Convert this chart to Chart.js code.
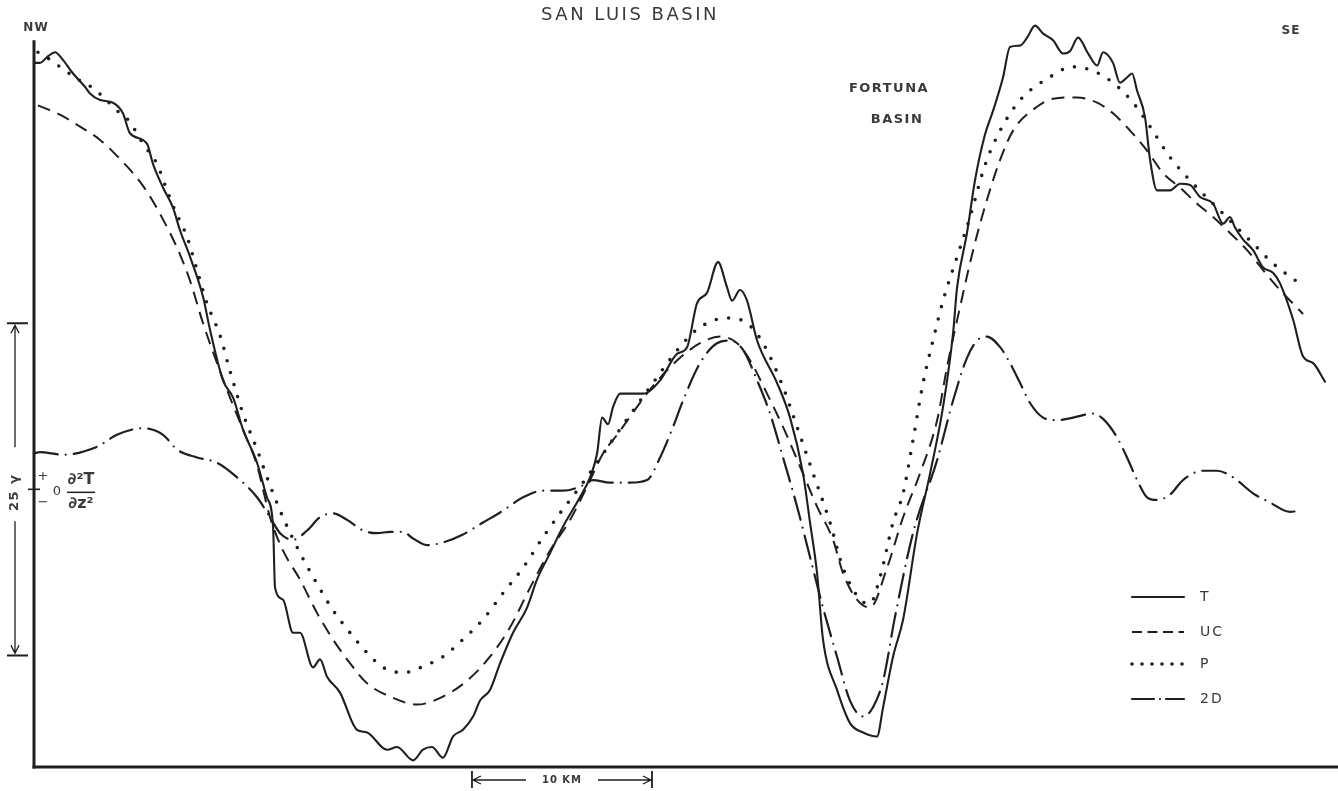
<!DOCTYPE html>
<html>
<head>
<meta charset="utf-8">
<script src="https://cdn.jsdelivr.net/npm/chart.js@4.4.1/dist/chart.umd.min.js"></script>
<style>
html,body{margin:0;padding:0;background:#fff;}
#wrap{width:1338px;height:791px;position:relative;}
</style>
</head>
<body>
<div id="wrap"><canvas id="c"></canvas></div>
<script>
// ---- data (distance along profile in km, field in gammas) ----
const tDist = [0,0.33,0.78,1.17,1.56,2.17,2.83,3.11,3.67,4.39,
  4.94,5.33,6.28,6.61,7.17,7.72,8.11,8.67,9.39,9.78,
  10.5,11.06,11.61,12.39,12.94,13.28,13.39,13.83,14.39,14.78,
  15.5,15.89,16.28,17.0,17.94,18.5,19.61,20.17,21.06,21.61,
  22.11,22.72,23.28,23.83,24.39,24.78,25.33,25.89,26.61,27.39,
  27.94,28.67,29.39,30.33,30.89,31.28,31.56,31.89,32.17,32.56,
  33.11,33.83,34.78,35.72,36.28,36.83,37.39,38.0,38.5,38.78,
  39.22,39.61,40.17,41.28,42.0,42.72,43.11,43.5,43.83,44.61,
  45.33,46.06,46.83,47.17,47.72,48.28,49.06,49.78,50.5,51.06,
  51.28,51.83,52.28,52.83,53.28,53.83,54.22,54.78,55.17,55.61,
  56.06,56.61,57.17,57.56,58.0,58.56,59.06,59.39,59.94,60.33,
  60.72,61.0,61.28,61.72,62.0,62.39,63.11,63.67,64.22,64.78,
  65.5,66.06,66.44,66.72,67.17,67.72,68.28,68.83,69.22,69.94,
  70.5,71.06,71.72];
const tVal = [53.0,53.0,53.5,53.8,53.3,52.2,51.2,50.7,50.2,50.0,
  49.2,47.7,46.9,45.4,43.6,42.1,40.4,38.4,35.4,32.9,
  29.1,27.8,25.4,22.9,20.3,18.1,13.5,12.6,10.1,10.1,
  7.5,8.1,6.8,5.6,2.8,2.6,1.3,1.5,0.5,1.3,
  1.5,0.7,2.3,2.8,3.8,5.0,5.8,7.8,10.1,12.0,
  14.1,16.1,18.1,20.3,21.8,23.6,26.3,25.8,27.1,28.1,
  28.1,28.1,29.1,31.1,31.6,34.9,35.7,38.0,36.1,35.1,
  35.9,35.1,32.1,28.9,26.3,22.1,18.4,14.6,9.6,5.8,
  3.3,2.6,2.3,4.5,8.3,11.1,17.6,22.1,27.1,32.7,
  36.1,40.2,44.2,47.6,49.4,51.9,54.2,54.3,54.9,55.8,
  55.2,54.7,53.7,53.9,54.9,53.7,52.8,53.8,53.0,51.5,
  51.9,52.2,50.9,48.9,45.7,43.4,43.4,43.9,43.8,42.9,
  42.4,40.9,41.4,40.6,39.7,38.9,37.6,37.2,36.4,33.7,
  30.9,30.4,29.0];

const ucDist = [0.22,1.44,2.56,3.67,4.61,5.5,6.28,7.17,7.94,8.67,
  9.39,10.17,10.89,11.61,12.39,13.11,13.83,14.78,15.72,16.61,
  17.56,18.5,19.78,21.28,22.72,24.06,25.33,26.44,27.56,28.67,
  29.78,30.72,31.61,32.39,34.22,35.72,37.0,38.11,39.06,39.78,
  40.72,41.61,42.56,43.5,44.39,44.94,45.72,46.44,47.39,48.28,
  49.22,50.17,50.72,51.44,52.17,52.94,53.67,54.39,55.72,56.61,
  57.94,59.06,59.94,60.89,61.83,62.72,63.67,64.61,65.5,66.44,
  67.39,68.28,69.22,70.5];
const ucVal = [49.8,49.1,48.2,47.2,46.0,44.7,43.3,41.2,39.1,36.6,
  33.4,30.4,27.8,25.4,22.7,18.8,16.3,14.1,11.6,9.6,
  7.8,6.3,5.3,4.7,5.3,6.5,8.3,10.5,13.5,16.3,
  18.6,21.1,23.6,25.0,28.4,30.6,31.9,32.4,31.9,30.6,
  28.1,25.6,22.6,19.6,17.1,14.6,12.6,12.0,15.0,18.8,
  22.1,26.1,30.1,34.6,38.9,42.7,45.7,47.9,49.7,50.3,
  50.4,50.0,49.2,47.9,46.4,44.7,43.6,42.4,41.4,40.2,
  38.9,37.4,35.9,34.1];

const pDist = [0.22,0.72,1.44,2.39,3.28,3.94,4.61,5.17,5.72,6.06,
  6.83,7.39,7.83,8.5,9.06,9.61,10.33,10.89,11.61,12.39,
  13.11,13.83,14.78,15.72,16.61,17.56,18.5,19.39,20.5,21.83,
  22.72,23.83,24.94,26.06,27.17,28.28,29.22,30.5,32.39,34.22,
  36.06,37.0,38.5,39.61,40.5,41.61,42.39,43.28,44.22,44.94,
  45.89,46.44,47.0,47.72,48.28,48.83,49.39,49.94,50.5,51.28,
  52.0,52.83,53.67,54.78,56.28,57.72,58.83,59.94,61.06,62.0,
  63.11,64.39,65.5,66.61,67.72,68.83,70.5];
const pVal = [53.8,53.4,52.7,51.8,51.1,50.3,49.4,48.8,47.7,46.9,
  45.4,43.4,41.9,39.9,37.4,34.9,32.5,29.8,26.6,23.9,
  21.2,18.8,16.1,13.8,11.8,10.1,8.6,7.5,7.1,7.7,
  8.3,9.6,11.1,13.1,15.0,17.3,19.1,21.4,25.1,28.6,
  31.9,33.1,33.8,33.4,31.9,28.6,25.6,22.1,18.4,15.0,
  12.6,12.3,14.3,18.4,20.6,24.6,28.9,32.1,35.1,38.4,
  41.4,45.3,47.9,50.2,51.8,52.7,52.4,51.5,50.0,48.2,
  45.9,43.9,42.4,40.9,39.4,37.9,36.2];

const d2Dist = [0,0.33,1.61,3.5,4.61,6.06,7.17,7.94,9.06,10.17,
  11.28,12.39,13.11,13.67,14.39,15.17,15.89,16.61,17.39,18.28,
  19.06,19.78,20.5,21.06,21.83,22.72,23.83,24.94,26.06,27.17,
  28.28,29.39,30.33,31.06,32.0,33.11,34.06,34.78,35.5,36.06,
  37.0,37.94,38.67,39.39,40.17,40.89,41.61,42.39,43.11,43.83,
  44.61,45.33,46.06,46.61,47.17,47.83,48.83,50.17,51.06,51.83,
  52.39,52.94,53.67,54.22,54.78,55.33,56.06,56.83,57.72,58.83,
  59.39,60.17,60.72,61.28,61.83,62.39,63.11,63.83,64.94,65.72,
  66.61,67.72,68.67,69.78,70.33];
const d2Val = [23.6,23.7,23.5,24.1,25.0,25.5,25.0,23.9,23.3,22.9,
  21.8,20.3,18.8,17.6,17.1,17.8,18.8,19.1,18.6,17.8,
  17.6,17.7,17.7,17.2,16.7,16.9,17.5,18.4,19.3,20.3,
  20.8,20.8,21.1,21.6,21.4,21.4,21.6,23.3,25.6,27.6,
  30.4,31.9,32.1,31.4,29.1,26.6,23.3,19.6,15.8,12.0,
  8.3,5.0,3.8,4.5,6.5,11.3,17.6,23.1,27.6,30.8,
  32.1,32.4,31.6,30.4,28.9,27.4,26.3,26.1,26.3,26.6,
  26.2,24.8,23.3,21.6,20.3,20.1,20.5,21.6,22.3,22.3,
  21.8,20.6,19.9,19.2,19.3];

const seriesLabels = ['T', 'UC', 'P', '2D'];

// reference marks (in data units)
const X_MAX = 72.44;        // km at right edge
const Y_MAX = 56;           // gammas at top edge
const AXIS_TOP = 54.7;      // top of the vertical axis line
const GAMMA_BAR_BASE = 8.4; // lower end of the 25 gamma scale bar
const GAMMA_BAR_SPAN = 25;
const D2_ZERO = 20.9;       // zero level of the second derivative curve
const KM_BAR_START = 24.33; // start of the 10 km scale bar
const KM_BAR_SPAN = 10;

const INK = '#1f1f1f';
const TXT = '#3a3a3a';
const FONT = '"DejaVu Sans", "Liberation Sans", sans-serif';

const toXY = (xs, ys) => xs.map((x, i) => ({ x: x, y: ys[i] }));

const styles = [
  { borderWidth: 2.1, borderDash: [], borderCapStyle: 'round', legendDash: [] },
  { borderWidth: 2.0, borderDash: [13, 8], borderCapStyle: 'butt', legendDash: [10, 5.5] },
  { borderWidth: 3.6, borderDash: [0, 12.5], borderCapStyle: 'round', legendDash: [0, 10] },
  { borderWidth: 2.2, borderDash: [24, 8, 0, 8], borderCapStyle: 'round', legendDash: [22, 6, 0, 6] }
];
const seriesData = [toXY(tDist, tVal), toXY(ucDist, ucVal), toXY(pDist, pVal), toXY(d2Dist, d2Val)];

const datasets = seriesLabels.map((lab, i) => ({
  label: lab,
  data: seriesData[i],
  borderColor: INK,
  backgroundColor: INK,
  borderWidth: styles[i].borderWidth,
  borderDash: styles[i].borderDash,
  borderCapStyle: styles[i].borderCapStyle,
  borderJoinStyle: 'round',
  pointRadius: 0,
  pointHoverRadius: 0,
  fill: false,
  tension: 0.4,
  cubicInterpolationMode: 'monotone',
  clip: false
}));

function txt(ctx, s, x, y, font, align, spacing) {
  ctx.font = font;
  ctx.letterSpacing = spacing || '0px';
  ctx.textAlign = align || 'center';
  ctx.textBaseline = 'middle';
  ctx.fillText(s, x, y);
}

const decor = {
  id: 'decor',
  beforeDatasetsDraw(chart) {
    const { ctx, scales: { x, y } } = chart;
    const x0 = x.getPixelForValue(0), y0 = y.getPixelForValue(0);
    ctx.save();
    ctx.strokeStyle = INK;
    ctx.lineWidth = 3;
    ctx.beginPath();
    ctx.moveTo(x0, y.getPixelForValue(AXIS_TOP));
    ctx.lineTo(x0, y0 + 1.5);
    ctx.stroke();
    ctx.beginPath();
    ctx.moveTo(x0 - 1.5, y0);
    ctx.lineTo(x.getPixelForValue(X_MAX), y0);
    ctx.stroke();
    ctx.restore();
  },
  afterDraw(chart) {
    const { ctx, scales: { x, y }, chartArea } = chart;
    ctx.save();
    ctx.fillStyle = TXT;
    ctx.strokeStyle = INK;

    // titles
    txt(ctx, 'SAN LUIS BASIN', 630, 15, '18px ' + FONT, 'center', '2.5px');
    txt(ctx, 'NW', 36, 28, 'bold 12px ' + FONT, 'center', '1px');
    txt(ctx, 'SE', 1291, 31, 'bold 12px ' + FONT, 'center', '1px');
    txt(ctx, 'FORTUNA', 889, 89, 'bold 13px ' + FONT, 'center', '1.5px');
    txt(ctx, 'BASIN', 897, 120, 'bold 13px ' + FONT, 'center', '1.5px');

    // 25 gamma scale bar
    const bx = chartArea.left - 19;
    const bTop = y.getPixelForValue(GAMMA_BAR_BASE + GAMMA_BAR_SPAN);
    const bBot = y.getPixelForValue(GAMMA_BAR_BASE);
    const bMid = (bTop + bBot) / 2;
    ctx.lineWidth = 2;
    ctx.beginPath();
    ctx.moveTo(bx - 8, bTop); ctx.lineTo(bx + 13, bTop);
    ctx.moveTo(bx - 8, bBot); ctx.lineTo(bx + 13, bBot);
    ctx.stroke();
    ctx.lineWidth = 1.3;
    ctx.beginPath();
    ctx.moveTo(bx, bTop + 2); ctx.lineTo(bx, bMid - 42);
    ctx.moveTo(bx, bMid + 32); ctx.lineTo(bx, bBot - 2);
    ctx.moveTo(bx - 4, bTop + 10); ctx.lineTo(bx, bTop + 2); ctx.lineTo(bx + 4, bTop + 10);
    ctx.moveTo(bx - 4, bBot - 10); ctx.lineTo(bx, bBot - 2); ctx.lineTo(bx + 4, bBot - 10);
    ctx.stroke();
    ctx.save();
    ctx.translate(bx, bMid);
    ctx.rotate(-Math.PI / 2);
    txt(ctx, '25 \u03b3', -3, 0, 'bold 13px ' + FONT, 'center', '1.5px');
    ctx.restore();

    // zero tick of second derivative + label
    const zy = y.getPixelForValue(D2_ZERO);
    ctx.lineWidth = 1.6;
    ctx.beginPath();
    ctx.moveTo(chartArea.left - 6, zy); ctx.lineTo(chartArea.left + 6, zy);
    ctx.stroke();
    txt(ctx, '+', chartArea.left + 9, zy - 13, '13px ' + FONT, 'center');
    txt(ctx, '0', chartArea.left + 23, zy + 2, '13px ' + FONT, 'center');
    txt(ctx, '\u2212', chartArea.left + 9, zy + 13, '13px ' + FONT, 'center');
    txt(ctx, '\u2202\u00b2T', chartArea.left + 47, zy - 9, 'bold 16px ' + FONT, 'center');
    ctx.lineWidth = 1.5;
    ctx.beginPath();
    ctx.moveTo(chartArea.left + 33, zy + 3); ctx.lineTo(chartArea.left + 61, zy + 3);
    ctx.stroke();
    txt(ctx, '\u2202z\u00b2', chartArea.left + 47, zy + 15, 'bold 16px ' + FONT, 'center');

    // 10 km scale bar
    const kx1 = x.getPixelForValue(KM_BAR_START);
    const kx2 = x.getPixelForValue(KM_BAR_START + KM_BAR_SPAN);
    const ky = y.getPixelForValue(0) + 13;
    const kMid = (kx1 + kx2) / 2;
    ctx.lineWidth = 1.8;
    ctx.beginPath();
    ctx.moveTo(kx1, ky - 9); ctx.lineTo(kx1, ky + 8);
    ctx.moveTo(kx2, ky - 9); ctx.lineTo(kx2, ky + 8);
    ctx.stroke();
    ctx.lineWidth = 1.3;
    ctx.beginPath();
    ctx.moveTo(kx1 + 1, ky); ctx.lineTo(kMid - 36, ky);
    ctx.moveTo(kMid + 36, ky); ctx.lineTo(kx2 - 1, ky);
    ctx.moveTo(kx1 + 9, ky - 4); ctx.lineTo(kx1 + 1, ky); ctx.lineTo(kx1 + 9, ky + 4);
    ctx.moveTo(kx2 - 9, ky - 4); ctx.lineTo(kx2 - 1, ky); ctx.lineTo(kx2 - 9, ky + 4);
    ctx.stroke();
    txt(ctx, '10 KM', kMid, ky, 'bold 10px ' + FONT, 'center', '1px');

    // legend
    const legY = [597, 632, 664, 699];
    chart.data.datasets.forEach((ds, i) => {
      ctx.save();
      ctx.strokeStyle = INK;
      ctx.lineWidth = ds.borderWidth;
      ctx.lineCap = ds.borderCapStyle;
      ctx.setLineDash(styles[i].legendDash);
      ctx.beginPath();
      ctx.moveTo(1132, legY[i]);
      ctx.lineTo(1184, legY[i]);
      ctx.stroke();
      ctx.restore();
      txt(ctx, ds.label, 1200, legY[i], '14px ' + FONT, 'left', '2px');
    });
    ctx.restore();
  }
};

new Chart(document.getElementById('c'), {
  type: 'line',
  data: { datasets: datasets },
  options: {
    responsive: true,
    maintainAspectRatio: false,
    animation: false,
    events: [],
    layout: { padding: { left: 34, right: 0, top: 23, bottom: 24 } },
    plugins: { legend: { display: false }, tooltip: { enabled: false }, title: { display: false } },
    scales: {
      x: { type: 'linear', min: 0, max: X_MAX, display: false },
      y: { type: 'linear', min: 0, max: Y_MAX, display: false }
    }
  },
  plugins: [decor]
});
</script>
</body>
</html>
